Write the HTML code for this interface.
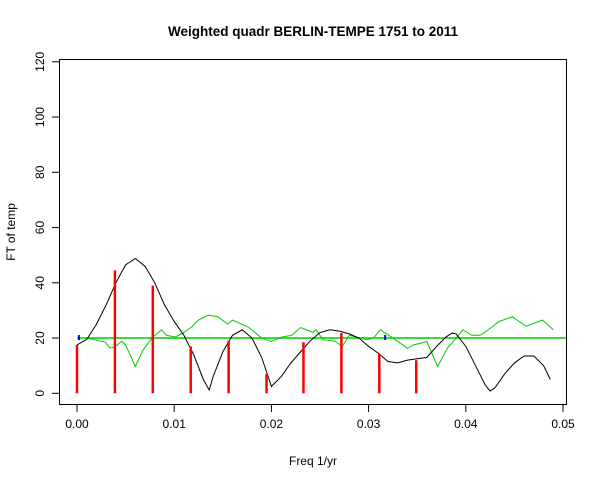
<!DOCTYPE html>
<html><head><meta charset="utf-8"><style>
body{margin:0;background:#fff;}
svg{display:block;font-family:"Liberation Sans",Arial,sans-serif;}
</style></head><body>
<svg id="chart" width="600" height="480"></svg>
<script>
const blackFreq=[0,0.001,0.002,0.003,0.004,0.005,0.006,0.007,0.008,0.009,0.010,0.011,0.012,0.013,0.0136,0.014,0.015,0.016,0.017,0.018,0.019,0.0200,0.021,0.022,0.023,0.024,0.025,0.026,0.027,0.028,0.029,0.030,0.031,0.032,0.033,0.034,0.035,0.036,0.037,0.038,0.0386,0.039,0.040,0.041,0.042,0.0425,0.043,0.044,0.045,0.046,0.047,0.048,0.0487];
const blackVal=[17.5,19.5,25,32,40,46.5,48.8,46,40,32,26,21,14,5,1.2,6,15,21,23,20,13,2.5,6,11,15,19,22,23,22.5,21.5,20,17,14.5,11.5,11,12,12.5,13,17,20.5,21.8,21.5,17,10,3,0.8,2,7,11,13.5,13.5,10,5];
const greenFreq=[0,0.0010,0.0029,0.0034,0.0038,0.0046,0.0050,0.0060,0.0068,0.0077,0.0087,0.0092,0.0101,0.0108,0.0118,0.0125,0.0135,0.0145,0.0155,0.0160,0.0176,0.0190,0.0200,0.0211,0.0221,0.0230,0.0243,0.0246,0.0253,0.0265,0.0273,0.0280,0.0298,0.0305,0.0312,0.0325,0.0340,0.0346,0.0360,0.0371,0.0381,0.0390,0.0397,0.0406,0.0415,0.0427,0.0434,0.0448,0.0455,0.0462,0.0479,0.0490];
const greenVal=[20,20,18.5,16.4,16.6,18.8,17.5,9.7,15.7,20,23,21,20.4,21.6,24,26.5,28.3,27.7,25,26.5,24,20,18.8,20.4,21,23.8,22,23,19.4,18.9,17,21,19.4,20,23,20,16.3,17.5,18.7,9.7,16.3,20,23,21,21,24,26,27.7,26,24.3,26.5,23];
const stemFreq=[0,0.0039,0.0078,0.0117,0.0156,0.0195,0.0233,0.0272,0.0311,0.0349];
const stemVal=[17.5,44.5,39,17,19,7,18.5,21.8,14.3,12];
const blueFreq=[0.0001,0.0316];
const xTicks=[0,0.01,0.02,0.03,0.04,0.05];
const xTickLabels=["0.00","0.01","0.02","0.03","0.04","0.05"];
const yTicks=[0,20,40,60,80,100,120];
const NS="http://www.w3.org/2000/svg";
const svg=document.getElementById('chart');
const X=f=>77+f*9720, Y=v=>393.3-v*2.7625;
function mk(tag,attrs,parent){const e=document.createElementNS(NS,tag);for(const k in attrs)e.setAttribute(k,attrs[k]);(parent||svg).appendChild(e);return e;}
const clip=mk('clipPath',{id:'pc'});mk('rect',{x:59,y:59,width:508,height:346},clip);
const frame=mk('rect',{x:59.5,y:59.5,width:507,height:345,fill:'none',stroke:'#000'});


const t=mk('text',{x:313,y:36,'text-anchor':'middle','font-size':13.5,'font-weight':'bold'});t.textContent='Weighted quadr BERLIN-TEMPE 1751 to 2011';


const xt=mk('text',{x:313,y:465,'text-anchor':'middle','font-size':12});xt.textContent='Freq 1/yr';


const yt=mk('text',{x:0,y:0,'text-anchor':'middle','font-size':12,transform:'translate(15,232) rotate(-90)'});yt.textContent='FT of temp';


xTicks.forEach((v,i)=>{const x=X(v);mk('line',{x1:x,x2:x,y1:405,y2:412,stroke:'#000'});
const l=mk('text',{x:x,y:428,'text-anchor':'middle','font-size':12});l.textContent=xTickLabels[i];

});
yTicks.forEach(v=>{const y=Y(v);mk('line',{x1:52,x2:59,y1:y,y2:y,stroke:'#000'});
const l=mk('text',{x:0,y:0,'text-anchor':'middle','font-size':12,transform:`translate(44,${y}) rotate(-90)`});l.textContent=v;

});
const g=mk('g',{'clip-path':'url(#pc)'});
const ref=mk('line',{x1:X(0),x2:X(0.0503),y1:Y(20),y2:Y(20),stroke:'#00cc00','stroke-width':1.5},g);


const gl=mk('polyline',{points:greenFreq.map((f,i)=>X(f)+','+Y(greenVal[i])).join(' '),fill:'none',stroke:'#00cc00','stroke-width':1},g);


const bl=mk('polyline',{points:blackFreq.map((f,i)=>X(f)+','+Y(blackVal[i])).join(' '),fill:'none',stroke:'#000','stroke-width':1},g);


stemFreq.forEach((f,i)=>{const s=mk('line',{x1:X(f),x2:X(f),y1:Y(0),y2:Y(stemVal[i]),stroke:'#ff0000','stroke-width':2.5},g);

});
blueFreq.forEach(f=>{const b=mk('line',{x1:X(f)+1,x2:X(f)+1,y1:Y(20)-3,y2:Y(20)+2,stroke:'#0000ff','stroke-width':2},g);

});
</script>
</body></html>
